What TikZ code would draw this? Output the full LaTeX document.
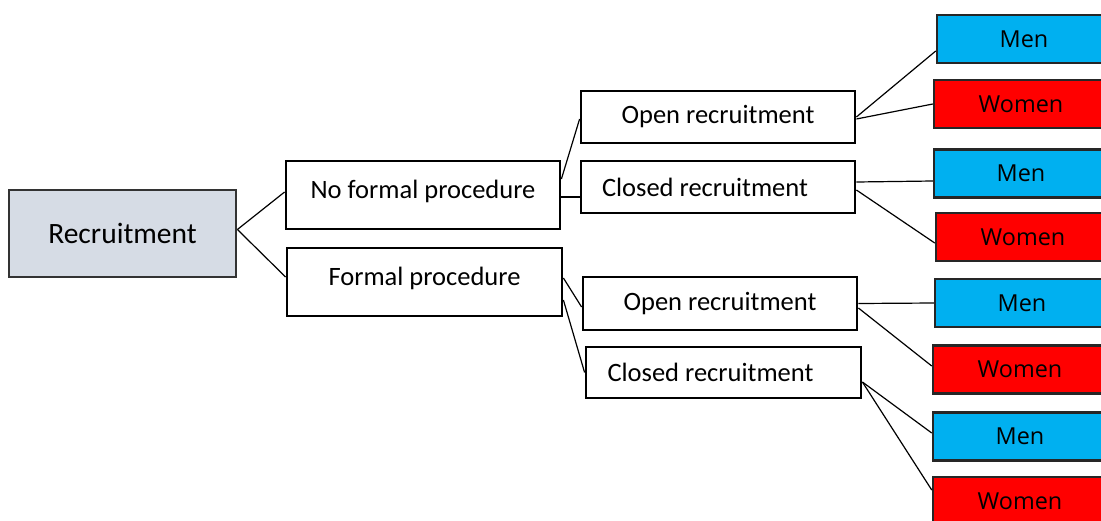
\documentclass[tikz,border=0pt]{standalone}
\usepackage{fontspec}
\setmainfont{Carlito}
\newfontfamily\leaffont{Open Sans}
\usepackage{xcolor}
\definecolor{rootgrey}{HTML}{D6DCE5}
\definecolor{menblue}{HTML}{00B0F0}
\definecolor{womenred}{HTML}{FF0000}

\begin{document}
\begin{tikzpicture}[x=1pt,y=-1pt,
    rootbox/.style={draw=black!80, line width=2.8pt, fill=rootgrey, inner sep=0pt,
        minimum width=227, minimum height=87, font=\fontsize{29.5}{34}\selectfont},
    stagebox/.style={draw=black, line width=2.8pt, fill=white, inner sep=0pt,
        font=\fontsize{26.5}{30}\selectfont},
    lefttext/.style={inner xsep=21pt, text width=232pt, align=flush left},
    leafbox/.style={draw=black!85, line width=2.5pt, inner sep=0pt,
        minimum width=174, minimum height=48, font=\leaffont\fontsize{23.4}{28}\selectfont},
    menbox/.style={leafbox, fill=menblue},
    womenbox/.style={leafbox, fill=womenred},
    link/.style={line width=1.2pt, black}]

        % Fix the frame of the picture
        \useasboundingbox (0,0) rectangle (1101,520);
        \clip (0,0) rectangle (1101,520);

        % Root
        \node[rootbox] (rec) at (122.5,233.5) {Recruitment};

        % Procedure level
        \node[stagebox, minimum width=274, minimum height=68, text depth=12pt] (nofp) at (423,195) {No formal procedure};
        \node[stagebox, minimum width=275, minimum height=68, text depth=12pt] (fp) at (424.5,282) {Formal procedure};

        % Recruitment level
        \node[stagebox, minimum width=274, minimum height=52] (open1) at (718,117) {Open recruitment};
        \node[stagebox, lefttext, minimum width=274, minimum height=52] (closed1) at (718,187) {Closed recruitment};
        \node[stagebox, minimum width=274, minimum height=53] (open2) at (720,303.5) {Open recruitment};
        \node[stagebox, lefttext, minimum width=275, minimum height=51] (closed2) at (723.5,372.5) {Closed recruitment};

        % Leaves
        \node[menbox] (men1) at (1024,39) {Men};
        \node[womenbox] (women1) at (1021,104) {Women};
        \node[menbox] (men2) at (1021,173.5) {Men};
        \node[womenbox] (women2) at (1023,237) {Women};
        \node[menbox] (men3) at (1022,303) {Men};
        \node[womenbox] (women3) at (1020,369.5) {Women};
        \node[menbox] (men4) at (1020,436.5) {Men};
        \node[womenbox] (women4) at (1020,501) {Women};

        % Root to procedures
        \draw[link] ([yshift=4pt]rec.east) -- ([yshift=3pt]nofp.west);
        \draw[link] ([yshift=4pt]rec.east) -- ([yshift=5pt]fp.west);

        % Procedures to recruitment types
        \draw[link] ([yshift=16pt]nofp.east) -- ([yshift=-2pt]open1.west);
        \draw[link] ([yshift=-2pt]nofp.east) -- ([yshift=-10pt]closed1.west);
        \draw[link] ([yshift=4pt]fp.east) -- ([yshift=-3.5pt]open2.west);
        \draw[link] ([yshift=-18pt]fp.east) -- (closed2.west);

        % Recruitment types to men and women
        \draw[link] (open1.east) -- ([yshift=-12pt]men1.west);
        \draw[link] ([yshift=-2pt]open1.east) -- (women1.west);
        \draw[link] ([yshift=5pt]closed1.east) -- ([yshift=-7.5pt]men2.west);
        \draw[link] ([yshift=-3pt]closed1.east) -- ([yshift=-6pt]women2.west);
        \draw[link] (open2.east) -- (men3.west);
        \draw[link] ([yshift=-4.5pt]open2.east) -- ([yshift=3.5pt]women3.west);
        \draw[link] ([yshift=-9.5pt]closed2.east) -- ([yshift=3.5pt]men4.west);
        \draw[link] ([yshift=-9.5pt]closed2.east) -- ([yshift=11pt]women4.west);
    \end{tikzpicture}
\end{document}
